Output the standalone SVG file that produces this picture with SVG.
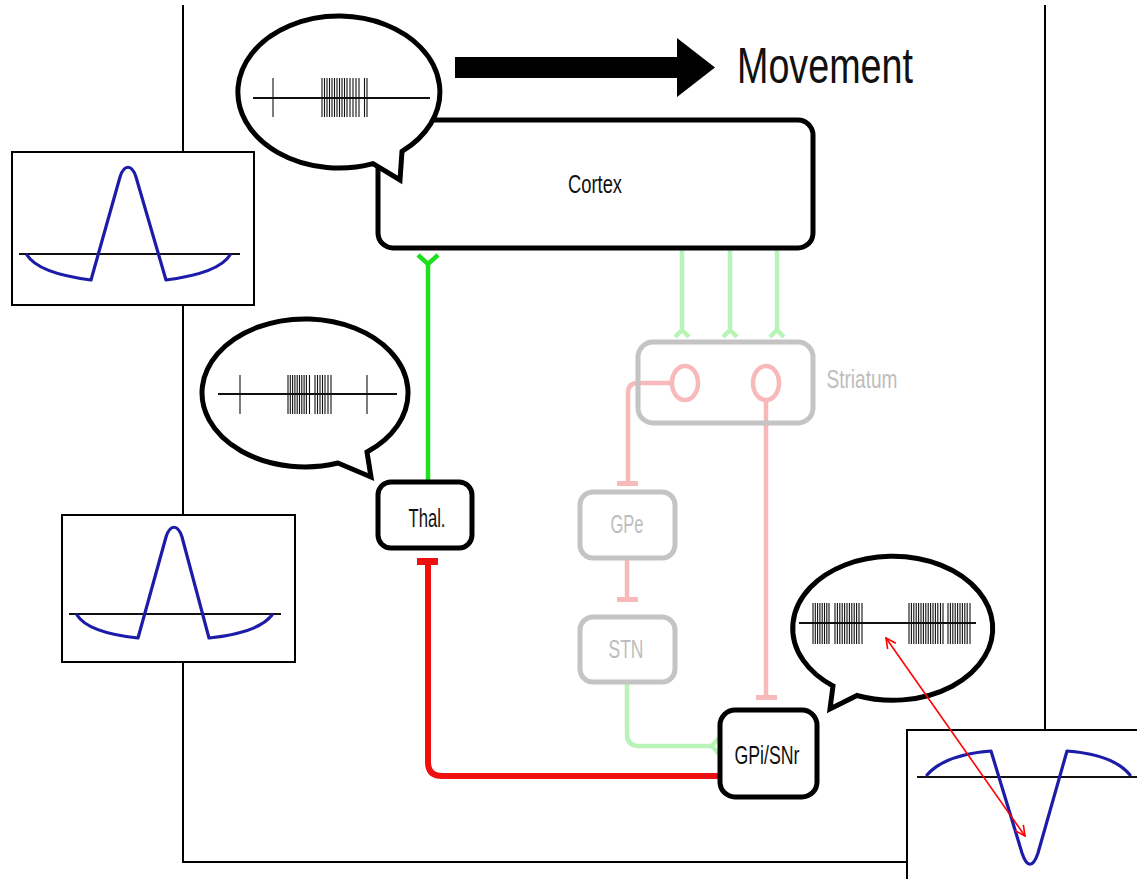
<svg xmlns="http://www.w3.org/2000/svg" width="1137" height="879" viewBox="0 0 1137 879">
  <style>
    .frame { stroke: #000; stroke-width: 2; fill: none; }
    .node { fill: #fff; stroke: #000; stroke-width: 5; }
    .node-dim { fill: none; stroke: #c4c4c4; stroke-width: 5; }
    .label { font-family: "Liberation Sans", Arial, sans-serif; font-size: 26px; fill: #111; text-anchor: middle; }
    .label-dim { fill: #bdbdbd; }
    .bubble { fill: #fff; stroke: #000; stroke-width: 5; stroke-linejoin: miter; }
    .axis { stroke: #111; stroke-width: 2; fill: none; }
    .spike { stroke: #111; stroke-width: 1.1; }
    .inset { fill: #fff; stroke: #000; stroke-width: 2; }
    .wave { fill: none; stroke: #1c1ca8; stroke-width: 3.2; stroke-linejoin: round; stroke-linecap: round; }
    .exc { fill: none; stroke: #1ee01e; stroke-width: 4.5; }
    .exc-dim { fill: none; stroke: #b8f4b8; stroke-width: 4.5; }
    .inh { fill: none; stroke: #ee1010; stroke-width: 6; }
    .inh-dim { fill: none; stroke: #f7b9b9; stroke-width: 4.5; }
  </style>
  <defs>
    <marker id="open-head" viewBox="0 0 12 12" refX="11" refY="6" markerWidth="12" markerHeight="12" markerUnits="userSpaceOnUse" orient="auto-start-reverse">
      <path d="M1,1 L11,6 L1,11" fill="none" stroke="#ff0000" stroke-width="1.6"/>
    </marker>
  </defs>

  <rect width="1137" height="879" fill="#fff"/>

  <!-- outer frame -->
  <g id="frame">
    <path class="frame" d="M183,5 V862 H907"/>
    <path class="frame" d="M1045,5 V730"/>
  </g>

  <!-- connectors -->
  <g id="connectors">
    <!-- cortex to thalamus (excitatory) -->
    <path class="exc" d="M428,264 V482"/>
    <path class="exc" d="M418,255 L428,264 L438,255"/>
    <!-- cortex to striatum (excitatory, faded) -->
    <path class="exc-dim" d="M682,250 V331 M675,337 L682,330 L689,337"/>
    <path class="exc-dim" d="M730,250 V331 M723,337 L730,330 L737,337"/>
    <path class="exc-dim" d="M777,250 V331 M770,337 L777,330 L784,337"/>
    <!-- striatum to GPe (inhibitory, faded) -->
    <path class="inh-dim" d="M672,383 H638 Q628,383 628,393 V485"/>
    <rect x="617" y="481" width="21" height="5" fill="#f7b9b9"/>
    <!-- striatum to GPi/SNr (inhibitory, faded) -->
    <path class="inh-dim" d="M766,400 V698"/>
    <rect x="756" y="695" width="21" height="5" fill="#f7b9b9"/>
    <!-- GPe to STN (inhibitory, faded) -->
    <path class="inh-dim" d="M627,558 V600"/>
    <rect x="617" y="597" width="21" height="5" fill="#f7b9b9"/>
    <!-- STN to GPi/SNr (excitatory, faded) -->
    <path class="exc-dim" d="M627,682 V734 Q627,746 639,746 H712"/>
    <path class="exc-dim" d="M719,738 L712,746 L719,754"/>
    <!-- GPi/SNr to thalamus (inhibitory) -->
    <path class="inh" d="M720,776 H442 Q428,776 428,762 V562"/>
    <rect x="417" y="558" width="21" height="7" fill="#ee1010"/>
  </g>

  <!-- movement arrow -->
  <g id="movement">
    <polygon points="455,57 677,57 677,38 715,67.5 677,97 677,78 455,78" fill="#000"/>
    <text class="label" x="825" y="83" style="font-size:50px" textLength="176" lengthAdjust="spacingAndGlyphs">Movement</text>
  </g>

  <!-- nodes -->
  <g id="cortex">
    <rect class="node" x="378" y="120" width="435" height="128" rx="15"/>
    <text class="label" x="595" y="193" textLength="54" lengthAdjust="spacingAndGlyphs">Cortex</text>
  </g>

  <g id="striatum">
    <rect class="node-dim" x="638" y="342" width="175" height="81" rx="15"/>
    <ellipse cx="685" cy="383" rx="13" ry="17" fill="none" stroke="#f7b9b9" stroke-width="4.5"/>
    <ellipse cx="766" cy="383" rx="13" ry="17" fill="none" stroke="#f7b9b9" stroke-width="4.5"/>
    <text class="label label-dim" x="862" y="388" textLength="71" lengthAdjust="spacingAndGlyphs">Striatum</text>
  </g>

  <g id="gpe">
    <rect class="node-dim" x="580" y="492" width="95" height="66" rx="13"/>
    <text class="label label-dim" x="627" y="533" textLength="33" lengthAdjust="spacingAndGlyphs">GPe</text>
  </g>

  <g id="stn">
    <rect class="node-dim" x="580" y="617" width="95" height="65" rx="13"/>
    <text class="label label-dim" x="626" y="658" textLength="35" lengthAdjust="spacingAndGlyphs">STN</text>
  </g>

  <g id="thalamus">
    <rect class="node" x="378" y="482" width="94" height="66" rx="13"/>
    <text class="label" x="427" y="527" textLength="37" lengthAdjust="spacingAndGlyphs">Thal.</text>
  </g>

  <g id="gpi-snr">
    <rect class="node" x="720" y="710" width="97" height="87" rx="15"/>
    <text class="label" x="767" y="764" textLength="65" lengthAdjust="spacingAndGlyphs">GPi/SNr</text>
  </g>

  <!-- cortex firing pattern -->
  <g id="bubble-cortex">
    <path class="bubble" d="M402,151.4 A101,76 0 1 0 373,163.6 L400,180 Z"/>
    <path class="axis" d="M253,98 H430"/>
    <path class="spike" d="M273,78 V117 M322,78 V117 M324.5,78 V117 M327,78 V117 M329.5,78 V117 M332,78 V117 M334.5,78 V117 M337,78 V117 M339.5,78 V117 M342,78 V117 M344.5,78 V117 M347,78 V117 M350,78 V117 M353,78 V117 M356,78 V117 M359,78 V117 M364.5,78 V117 M367,78 V117"/>
  </g>

  <!-- thalamus firing pattern -->
  <g id="bubble-thalamus">
    <path class="bubble" d="M367,452 A103,74 0 1 0 338,463 L371,477 Z"/>
    <path class="axis" d="M218,394 H397"/>
    <path class="spike" d="M240,375 V414 M367,375 V414 M288,375 V414 M290.3,375 V414 M292.6,375 V414 M294.9,375 V414 M297.2,375 V414 M299.5,375 V414 M301.8,375 V414 M304.1,375 V414 M306.4,375 V414 M309.5,375 V414 M315,375 V414 M317.5,375 V414 M320,375 V414 M322.5,375 V414 M325,375 V414 M328,375 V414 M331,375 V414"/>
  </g>

  <!-- GPi/SNr firing pattern -->
  <g id="bubble-gpi">
    <path class="bubble" d="M857,695.5 A100,72 0 1 0 833,686 L830,709 Z"/>
    <path class="axis" d="M799,623 H976"/>
    <path class="spike" d="M813,603 V644 M815.3,603 V644 M817.6,603 V644 M819.9,603 V644 M822.2,603 V644 M824.5,603 V644 M826.8,603 V644 M829,603 V644 M835,603 V644 M837.4,603 V644 M839.8,603 V644 M842.2,603 V644 M844.6,603 V644 M847,603 V644 M849.4,603 V644 M851.8,603 V644 M854.2,603 V644 M856.6,603 V644 M859,603 V644 M862,603 V644 M909,603 V644 M911.4,603 V644 M913.8,603 V644 M916.2,603 V644 M918.6,603 V644 M921,603 V644 M923.4,603 V644 M925.8,603 V644 M928.2,603 V644 M930.6,603 V644 M933,603 V644 M935.4,603 V644 M937.8,603 V644 M940.5,603 V644 M943,603 V644 M948,603 V644 M950.4,603 V644 M952.8,603 V644 M955.2,603 V644 M957.6,603 V644 M960,603 V644 M962.4,603 V644 M964.8,603 V644 M967.2,603 V644 M970,603 V644"/>
  </g>

  <!-- action potential waveforms -->
  <g id="wave-cortex">
    <rect class="inset" x="12" y="152" width="242" height="153"/>
    <path class="axis" d="M19,254 H240"/>
    <path class="wave" d="M27,255 C35,268 60,276 91,280 L120,177 C124,164 132,164 136,177 L166,280 C197,276 222,268 230,255"/>
  </g>

  <g id="wave-thalamus">
    <rect class="inset" x="62" y="515" width="233" height="147"/>
    <path class="axis" d="M69,614 H281"/>
    <path class="wave" d="M77,615 C85,628 110,635 138,638 L166,537 C170,524 178,524 182,537 L209,638 C237,635 262,628 272,615"/>
  </g>

  <g id="wave-gpi">
    <rect class="inset" x="907" y="730" width="240" height="160"/>
    <path class="axis" d="M917,777 H1137"/>
    <path class="wave" d="M927,775 C940,760 965,753 991,751 L1022,853 C1027,868 1033,868 1038,853 L1067,751 C1093,753 1118,760 1130,775"/>
  </g>

  <!-- link between burst gap and waveform -->
  <g id="pointer">
    <line x1="886" y1="638" x2="1025" y2="836" stroke="#ff0000" stroke-width="1.6" marker-start="url(#open-head)" marker-end="url(#open-head)"/>
  </g>
</svg>
